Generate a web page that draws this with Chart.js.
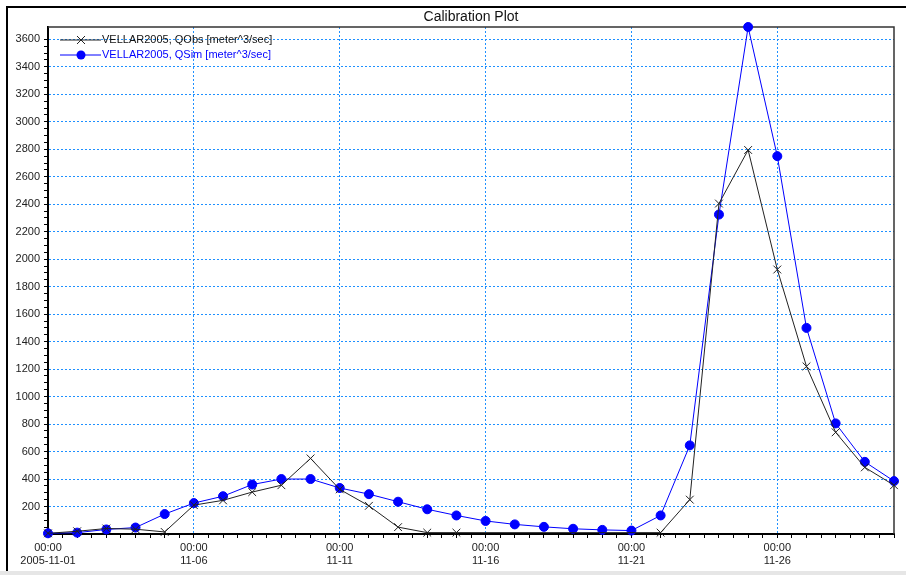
<!DOCTYPE html>
<html>
<head>
<meta charset="utf-8">
<title>Calibration Plot</title>
<script src="https://cdn.jsdelivr.net/npm/chart.js@4.4.0/dist/chart.umd.min.js"></script>
<style>
    html, body { margin: 0; padding: 0; background: #fff; }
    #wrap { width: 906px; height: 575px; position: relative; }
</style>
</head>
<body>
<div id="wrap"><canvas id="chart" width="906" height="575"></canvas></div>
<script>
// Daily values, 00:00 each day
const dates = [
    '2005-11-01', '2005-11-02', '2005-11-03', '2005-11-04', '2005-11-05',
    '2005-11-06', '2005-11-07', '2005-11-08', '2005-11-09', '2005-11-10',
    '2005-11-11', '2005-11-12', '2005-11-13', '2005-11-14', '2005-11-15',
    '2005-11-16', '2005-11-17', '2005-11-18', '2005-11-19', '2005-11-20',
    '2005-11-21', '2005-11-22', '2005-11-23', '2005-11-24', '2005-11-25',
    '2005-11-26', '2005-11-27', '2005-11-28', '2005-11-29', '2005-11-30'
];

// observed flow (gaps where nothing is plotted)
const qObs = [
    5, 20, 40, 35, 15, 210, 245, 305, 355, 550,
    325, 205, 50, 10, 10, null, null, null, null, null,
    null, 10, 250, 2405, 2795, 1925, 1220, 740, 485, 355
];

// simulated flow
const qSim = [
    5, 10, 33, 47, 145, 225, 275, 360, 400, 400,
    335, 290, 235, 180, 135, 95, 70, 52, 38, 30,
    25, 135, 645, 2325, 3690, 2750, 1500, 805, 525, 385
];

const seriesNames = ['VELLAR2005, QObs [meter^3/sec]', 'VELLAR2005, QSim [meter^3/sec]'];
const xTickLabels = [
    ['00:00', '2005-11-01'], ['00:00', '11-06'], ['00:00', '11-11'],
    ['00:00', '11-16'], ['00:00', '11-21'], ['00:00', '11-26']
];
const yMax = 3690;

const GRID = '#1e90ff';
const NONE = 'rgba(0,0,0,0)';
const FONT = { family: '"Liberation Sans", Arial, sans-serif', size: 11 };

const toPoints = arr => arr.map((v, i) => ({ x: i, y: v }));

// frame, title, plot border and legend
const decorations = {
    id: 'decorations',
    beforeDraw(chart) {
        const c = chart.ctx;
        c.save();
        c.fillStyle = '#fff';
        c.fillRect(0, 0, chart.width, chart.height);
        c.fillStyle = '#e6e6e6';
        c.fillRect(0, 571, chart.width, 4);
        c.fillStyle = '#000';
        c.fillRect(6, 6, chart.width - 6, 2);
        c.fillRect(6, 6, 2, 565);
        c.restore();
    },
    beforeDatasetsDraw(chart) {
        const a = chart.chartArea;
        const c = chart.ctx;
        c.save();
        c.strokeStyle = '#333';
        c.lineWidth = 1.5;
        c.beginPath();
        c.moveTo(a.left, a.top);
        c.lineTo(a.right, a.top);
        c.lineTo(a.right, a.bottom);
        c.stroke();
        c.restore();
    },
    afterDraw(chart) {
        const a = chart.chartArea;
        const c = chart.ctx;
        c.save();
        c.font = '14px "Liberation Sans", Arial, sans-serif';
        c.fillStyle = '#111';
        c.textAlign = 'center';
        c.textBaseline = 'middle';
        c.fillText('Calibration Plot', (a.left + a.right) / 2, 17);

        c.font = '11px "Liberation Sans", Arial, sans-serif';
        c.textAlign = 'left';
        c.lineWidth = 1;
        // QObs entry
        let y = 40;
        c.strokeStyle = '#222';
        c.beginPath();
        c.moveTo(60, y); c.lineTo(101, y);
        c.moveTo(77, y - 4); c.lineTo(85, y + 4);
        c.moveTo(77, y + 4); c.lineTo(85, y - 4);
        c.stroke();
        c.fillStyle = '#111';
        c.fillText(seriesNames[0], 102, y);
        // QSim entry
        y = 55;
        c.strokeStyle = '#0000ff';
        c.fillStyle = '#0000ff';
        c.beginPath();
        c.moveTo(60, y); c.lineTo(101, y);
        c.stroke();
        c.beginPath();
        c.arc(81, y, 4.5, 0, Math.PI * 2);
        c.fill();
        c.fillText(seriesNames[1], 102, y);
        c.restore();
    }
};

const ctx = document.getElementById('chart').getContext('2d');
new Chart(ctx, {
    type: 'line',
    data: {
        datasets: [{
            label: seriesNames[0],
            data: toPoints(qObs),
            borderColor: '#222',
            borderWidth: 1,
            pointStyle: 'crossRot',
            pointRadius: 5.5,
            pointBorderColor: '#222',
            pointBorderWidth: 1,
            spanGaps: true,
            clip: false
        }, {
            label: seriesNames[1],
            data: toPoints(qSim),
            borderColor: '#0000ff',
            backgroundColor: '#0000ff',
            borderWidth: 1,
            pointStyle: 'circle',
            pointRadius: 4.5,
            pointBackgroundColor: '#0000ff',
            pointBorderColor: '#0000ff',
            clip: false
        }]
    },
    options: {
        responsive: false,
        animation: false,
        layout: { padding: { top: 27, right: 12, left: 0, bottom: 0 } },
        plugins: {
            legend: { display: false },
            title: { display: false },
            tooltip: { enabled: false }
        },
        scales: {
            x: {
                type: 'linear',
                min: 0,
                max: dates.length - 1,
                afterFit: s => { s.height = 41; },
                ticks: {
                    stepSize: 0.5,
                    autoSkip: false,
                    maxTicksLimit: 200,
                    maxRotation: 0,
                    padding: 3,
                    color: '#222',
                    font: FONT,
                    callback: v => (v % 5 === 0 ? xTickLabels[v / 5] : '')
                },
                grid: {
                    color: c => (c.tick && c.tick.value % 5 === 0 && c.tick.value > 0 ? GRID : NONE),
                    tickColor: '#000',
                    tickLength: 4,
                    lineWidth: 1
                },
                border: { color: '#000', width: 2, dash: [2, 2] }
            },
            y: {
                min: 0,
                max: yMax,
                afterFit: s => { s.width = 48; },
                ticks: {
                    stepSize: 50,
                    autoSkip: false,
                    maxTicksLimit: 200,
                    padding: 4,
                    color: '#222',
                    font: FONT,
                    callback: v => (v % 200 === 0 && v > 0 ? String(v) : '')
                },
                grid: {
                    color: c => (c.tick && c.tick.value % 200 === 0 && c.tick.value > 0 ? GRID : NONE),
                    tickColor: c => (c.tick && c.tick.value % 50 === 0 ? '#000' : NONE),
                    tickLength: 4,
                    lineWidth: 1
                },
                border: { color: '#000', width: 2, dash: [2, 2] }
            }
        }
    },
    plugins: [decorations]
});
</script>
</body>
</html>
